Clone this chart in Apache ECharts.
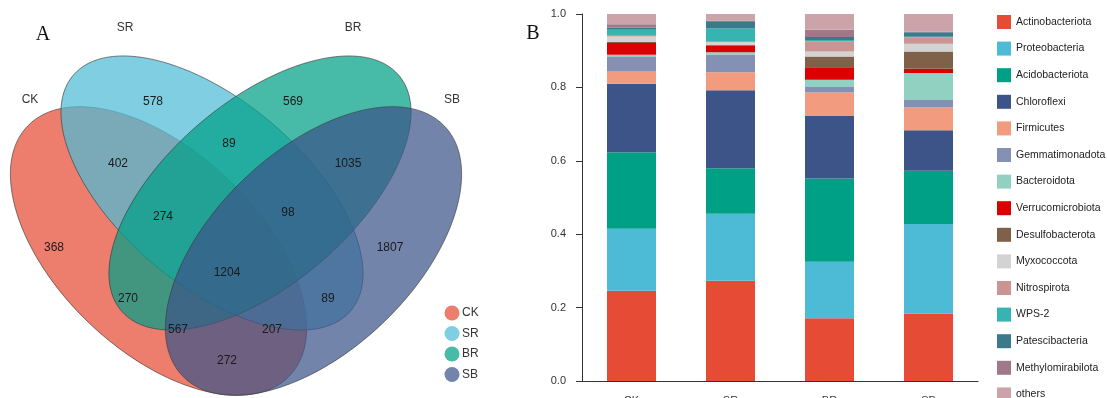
<!DOCTYPE html>
<html>
<head>
<meta charset="utf-8">
<script src="https://cdn.jsdelivr.net/npm/echarts@6/dist/echarts.min.js"></script>
<style>html,body{margin:0;padding:0;background:#fff}#c{width:1107px;height:398px}</style>
</head>
<body>
<div id="c"></div>
<script>
// ---------- Data: stacked bar (panel B) ----------
const categories = ['CK', 'SR', 'BR', 'SB'];
const phyla = ['Actinobacteriota','Proteobacteria','Acidobacteriota','Chloroflexi','Firmicutes','Gemmatimonadota','Bacteroidota','Verrucomicrobiota','Desulfobacterota','Myxococcota','Nitrospirota','WPS-2','Patescibacteria','Methylomirabilota','others'];
const Actinobacteriota  = [0.246, 0.2735, 0.171, 0.183];
const Proteobacteria    = [0.169, 0.182, 0.154, 0.245];
const Acidobacteriota   = [0.208, 0.124, 0.227, 0.145];
const Chloroflexi       = [0.187, 0.213, 0.170, 0.110];
const Firmicutes        = [0.035, 0.049, 0.064, 0.062];
const Gemmatimonadota   = [0.038, 0.048, 0.015, 0.021];
const Bacteroidota      = [0.006, 0.006, 0.020, 0.073];
const Verrucomicrobiota = [0.032, 0.018, 0.034, 0.012];
const Desulfobacterota  = [0.003, 0.002, 0.029, 0.047];
const Myxococcota       = [0.015, 0.008, 0.014, 0.021];
const Nitrospirota      = [0.004, 0.003, 0.028, 0.017];
const WPS2              = [0.014, 0.034, 0.003, 0.002];
const Patescibacteria   = [0.006, 0.018, 0.008, 0.012];
const Methylomirabilota = [0.009, 0.004, 0.020, 0.002];
const others            = [0.028, 0.0175, 0.043, 0.048];
const yTicks = [0, 0.2, 0.4, 0.6, 0.8, 1.0];

// ---------- Data: Venn (panel A) ----------
const vennSets = ['CK', 'SR', 'BR', 'SB'];
const vennRegions = ['CK','SR','BR','SB','CK&SR','SR&BR','BR&SB','CK&SR&BR','SR&BR&SB','CK&SR&BR&SB','CK&BR','SR&SB','CK&BR&SB','CK&SR&SB','CK&SB'];
const vennCounts  = [368, 578, 569, 1807, 402, 89, 1035, 274, 98, 1204, 270, 89, 567, 207, 272];

// ---------- Styles / layout ----------
const barColors = ['#E64B35','#4DBBD5','#00A087','#3C5488','#F39B7F','#8491B4','#91D1C2','#DC0000','#7E6148','#D3D3D3','#C99491','#37B3B1','#3B7A8A','#A07888','#CDA3AA'];
const seriesValues = [Actinobacteriota,Proteobacteria,Acidobacteriota,Chloroflexi,Firmicutes,Gemmatimonadota,Bacteroidota,Verrucomicrobiota,Desulfobacterota,Myxococcota,Nitrospirota,WPS2,Patescibacteria,Methylomirabilota,others];
const vennColors = ['rgba(230,75,53,0.72)','rgba(77,187,213,0.72)','rgba(0,160,135,0.72)','rgba(60,84,136,0.72)'];
// ellipse geometry: [cx, cy, rx, ry, rotationDeg]
const vennEllipses = [
  [158.5, 251, 181, 100, -43.6],
  [212, 193, 182, 92, -40.3],
  [260, 193, 182, 92, 40.3],
  [313.5, 251, 181, 100, 43.6]
];
const vennSetLabelPos = [[30,100],[125,28],[353,28],[452,100]];
const vennRegionPos = [[54,248],[153,102],[293,102],[390,248],[118,164],[229,144],[348,164],[163,217],[288,213],[227,273],[128,299],[328,299],[178,330],[272,330],[227,361]];
const vennLegendPos = [452, 313, 20.5];

const FONT = "'Liberation Sans', Arial, sans-serif";
const graphics = [];
vennEllipses.forEach((e, i) => {
  graphics.push({
    type: 'ellipse', x: e[0], y: e[1], rotation: e[4] * Math.PI / 180,
    shape: {cx: 0, cy: 0, rx: e[2], ry: e[3]},
    style: {fill: vennColors[i], stroke: 'rgba(60,60,60,0.75)', lineWidth: 0.8},
    z: 1 + i
  });
});
vennSets.forEach((s, i) => {
  graphics.push({type: 'text', x: vennSetLabelPos[i][0], y: vennSetLabelPos[i][1], z: 10,
    style: {text: s, fill: '#333', font: '12px ' + FONT, textAlign: 'center', textVerticalAlign: 'middle'}});
  const ly = vennLegendPos[1] + i * vennLegendPos[2];
  graphics.push({type: 'circle', shape: {cx: vennLegendPos[0], cy: ly, r: 7.5}, style: {fill: vennColors[i]}, z: 10});
  graphics.push({type: 'text', x: vennLegendPos[0] + 10, y: ly, z: 10,
    style: {text: s, fill: '#333', font: '12px ' + FONT, textAlign: 'left', textVerticalAlign: 'middle'}});
});
vennRegions.forEach((r, i) => {
  graphics.push({type: 'text', x: vennRegionPos[i][0], y: vennRegionPos[i][1], z: 10,
    style: {text: String(vennCounts[i]), fill: '#1a1a1a', font: '12px ' + FONT, textAlign: 'center', textVerticalAlign: 'middle'}});
});
graphics.push({type: 'text', x: 43, y: 35, z: 10, style: {text: 'A', fill: '#111', font: '20px "Liberation Serif", "DejaVu Serif", serif', textAlign: 'center', textVerticalAlign: 'middle'}});
graphics.push({type: 'text', x: 533, y: 34, z: 10, style: {text: 'B', fill: '#111', font: '20px "Liberation Serif", "DejaVu Serif", serif', textAlign: 'center', textVerticalAlign: 'middle'}});

const chart = echarts.init(document.getElementById('c'), null, {renderer: 'canvas'});
chart.setOption({
  animation: false,
  backgroundColor: '#fff',
  textStyle: {fontFamily: FONT},
  grid: {left: 582, top: 14, width: 396, height: 367, containLabel: false, outerBoundsMode: 'none'},
  xAxis: {
    type: 'category', data: categories,
    axisLine: {lineStyle: {color: '#333', width: 1}},
    axisTick: {alignWithLabel: true, length: 5, lineStyle: {color: '#333'}},
    axisLabel: {fontSize: 11, color: '#333', margin: 14}
  },
  yAxis: {
    type: 'value', min: yTicks[0], max: yTicks[yTicks.length - 1], interval: 0.2,
    axisLine: {show: true, lineStyle: {color: '#333', width: 1}},
    axisTick: {show: true, length: 6, lineStyle: {color: '#333'}},
    splitLine: {show: false},
    axisLabel: {formatter: v => v.toFixed(1), fontSize: 11, color: '#333', margin: 16}
  },
  legend: {
    orient: 'vertical', left: 992, top: 10, height: 440, padding: 5,
    itemWidth: 14, itemHeight: 14, itemGap: 12.6, icon: 'rect',
    textStyle: {fontSize: 10.5, color: '#222', fontFamily: FONT},
    data: phyla
  },
  series: phyla.map((name, i) => ({
    name: name, type: 'bar', stack: 'total', barWidth: 49,
    itemStyle: {color: barColors[i]},
    data: seriesValues[i]
  })),
  graphic: graphics
});
</script>
</body>
</html>
